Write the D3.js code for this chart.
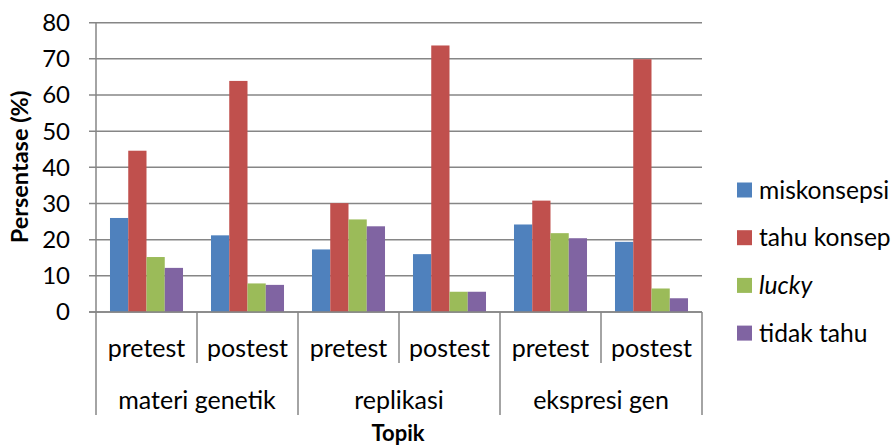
<!DOCTYPE html>
<html>
<head>
<meta charset="utf-8">
<script src="https://cdn.jsdelivr.net/npm/d3@7/dist/d3.min.js"></script>
<style>
  body { margin: 0; background: #fff; }
  svg { display: block; font-family: Lato, "Open Sans", sans-serif; }
</style>
</head>
<body>
<svg id="chart" width="893" height="448"></svg>
<script>
const topics = ["materi genetik", "replikasi", "ekspresi gen"];
const tests = ["pretest", "postest"];
const seriesNames = ["miskonsepsi", "tahu konsep", "lucky", "tidak tahu"];
const seriesColors = ["#4F81BD", "#C0504D", "#9BBB59", "#8064A2"];
const miskonsepsi = [26.0, 21.2, 17.3, 16.0, 24.2, 19.4];
const tahuKonsep  = [44.6, 63.9, 30.1, 73.7, 30.8, 69.9];
const lucky       = [15.2, 7.9, 25.6, 5.6, 21.8, 6.5];
const tidakTahu   = [12.2, 7.5, 23.7, 5.6, 20.4, 3.8];
const yTicks = [0, 10, 20, 30, 40, 50, 60, 70, 80];

const seriesValues = [miskonsepsi, tahuKonsep, lucky, tidakTahu];
const cells = [];
topics.forEach(t => tests.forEach(s => cells.push({ topic: t, test: s, key: t + "|" + s })));

const svg = d3.select("#chart");
const pLeft = 96, pRight = 702, pTop = 22.7, pBottom = 312;
const fs = 24, fsCat = 25;

const y = d3.scaleLinear().domain([0, 80]).range([pBottom, pTop]);
const x0 = d3.scaleBand().domain(cells.map(c => c.key)).range([pLeft, pRight])
  .paddingInner(0.277).paddingOuter(0.1385);
const x1 = d3.scaleBand().domain(seriesNames).range([0, x0.bandwidth()]);
const xCell = d3.scaleBand().domain(cells.map(c => c.key)).range([pLeft, pRight]);
const xTopic = d3.scaleBand().domain(topics).range([pLeft, pRight]);

const grid = "#868686";

svg.append("g").selectAll("line").data(yTicks).join("line")
  .attr("x1", pLeft - 7).attr("x2", pRight)
  .attr("y1", d => y(d)).attr("y2", d => y(d))
  .attr("stroke", grid).attr("stroke-width", 1.5);

svg.append("g").selectAll("text").data(yTicks).join("text")
  .attr("x", 70).attr("y", d => y(d)).attr("dy", "0.35em")
  .attr("text-anchor", "end").attr("font-size", fs).attr("fill", "#000")
  .text(d => d);

const g = svg.append("g");
seriesNames.forEach((name, si) => {
  g.append("g").selectAll("rect").data(cells).join("rect")
    .attr("x", (c) => x0(c.key) + x1(name))
    .attr("width", x1.bandwidth())
    .attr("y", (c, i) => y(seriesValues[si][i]))
    .attr("height", (c, i) => y(0) - y(seriesValues[si][i]))
    .attr("fill", seriesColors[si]);
});

svg.append("line").attr("x1", pLeft).attr("x2", pLeft).attr("y1", pTop).attr("y2", 415)
  .attr("stroke", grid).attr("stroke-width", 1.5);
svg.append("line").attr("x1", pLeft - 7).attr("x2", pRight).attr("y1", y(0)).attr("y2", y(0))
  .attr("stroke", grid).attr("stroke-width", 1.5);

cells.forEach((c, i) => {
  if (i === 0) return;
  const xx = xCell(c.key);
  const isGroup = i % 2 === 0;
  svg.append("line").attr("x1", xx).attr("x2", xx).attr("y1", y(0)).attr("y2", isGroup ? 415 : 363)
    .attr("stroke", grid).attr("stroke-width", 1.5);
});
svg.append("line").attr("x1", pRight).attr("x2", pRight).attr("y1", y(0)).attr("y2", 415)
  .attr("stroke", grid).attr("stroke-width", 1.5);

svg.append("g").selectAll("text").data(cells).join("text")
  .attr("x", c => xCell(c.key) + xCell.bandwidth() / 2).attr("y", 348).attr("dy", "0.35em")
  .attr("text-anchor", "middle").attr("font-size", fsCat).text(c => c.test);

svg.append("g").selectAll("text").data(topics).join("text")
  .attr("x", t => xTopic(t) + xTopic.bandwidth() / 2).attr("y", 400).attr("dy", "0.35em")
  .attr("text-anchor", "middle").attr("font-size", fsCat).text(t => t);

svg.append("text").attr("x", 398).attr("y", 441)
  .attr("text-anchor", "middle").attr("font-size", 22).attr("font-weight", "bold").text("Topik");
svg.append("text").attr("transform", `translate(20,167) rotate(-90)`)
  .attr("dy", "0.35em").attr("text-anchor", "middle").attr("font-size", 23.5)
  .attr("font-weight", "bold").text("Persentase (%)");

const leg = svg.append("g").selectAll("g").data(seriesNames).join("g")
  .attr("transform", (d, i) => `translate(737,${190 + i * 47.7})`);
leg.append("rect").attr("x", 0).attr("y", -7.5).attr("width", 15).attr("height", 15)
  .attr("fill", (d, i) => seriesColors[i]);
leg.append("text").attr("x", 22).attr("dy", "0.35em").attr("font-size", 24.6)
  .attr("font-style", d => d === "lucky" ? "italic" : "normal").text(d => d);
</script>
</body>
</html>
